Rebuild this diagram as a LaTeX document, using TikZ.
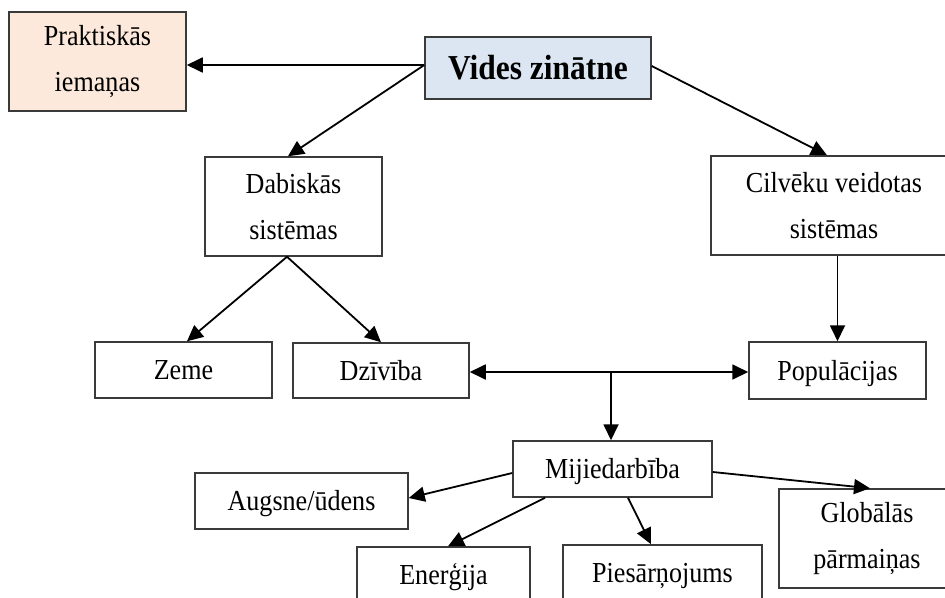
\documentclass[tikz,border=0pt]{standalone}
\usepackage{fontspec}
\setmainfont{Liberation Serif}[FakeStretch=0.9]
\usetikzlibrary{arrows.meta}
\definecolor{peach}{HTML}{FCE9DB}
\definecolor{paleblue}{HTML}{DCE6F2}
\definecolor{edge}{HTML}{3A3A3A}
\tikzset{
  box/.style={draw=edge, line width=1.5pt, inner sep=0pt, align=center,
    font=\fontsize{29}{46}\selectfont},
  one/.style={text height=26pt, text depth=7pt},
  arr/.style={line width=1.8pt, -{Triangle[length=16pt,width=15pt]}},
  arrb/.style={line width=1.8pt, {Triangle[length=16pt,width=15pt]}-{Triangle[length=16pt,width=15pt]}}
}
\begin{document}
\begin{tikzpicture}[x=1pt,y=-1pt]
\useasboundingbox (0,0) rectangle (945,597);
\clip (0,0) rectangle (945,597);
\node[box, fill=peach, minimum width=177pt, minimum height=99pt] (prak) at (97.5,61.5) {Praktiskās\\iemaņas};
\node[box, fill=paleblue, minimum width=226pt, minimum height=62pt, text height=31pt, text depth=8pt, font=\fontsize{35}{40}\selectfont\bfseries] (vides) at (538,68) {Vides zinātne};
\node[box, minimum width=177pt, minimum height=99pt] (dab) at (293.5,206.5) {Dabiskās\\sistēmas};
\node[box, minimum width=246pt, minimum height=99pt] (cil) at (834,205.5) {Cilvēku veidotas\\sistēmas};
\node[box, one, minimum width=177pt, minimum height=56pt] (zeme) at (183.5,370) {Zeme};
\node[box, one, minimum width=176pt, minimum height=55pt] (dzi) at (381,370.5) {Dzīvība};
\node[box, one, minimum width=177pt, minimum height=57pt] (pop) at (837.5,370.5) {Populācijas};
\node[box, one, minimum width=199pt, minimum height=56pt] (mij) at (612.5,469) {Mijiedarbība};
\node[box, one, minimum width=213pt, minimum height=56pt] (aug) at (301.5,501) {Augsne/ūdens};
\node[box, one, minimum width=173pt, minimum height=56pt] (ene) at (443.5,575) {Enerģija};
\node[box, one, minimum width=199pt, minimum height=56pt] (pie) at (662.5,573) {Piesārņojums};
\node[box, minimum width=176pt, minimum height=99pt] (glo) at (867,538.5) {Globālās\\pārmaiņas};

\coordinate (vw) at ([yshift=3pt]vides.west);
\draw[arr] (vw) -- (vw -| prak.east);
\draw[arr] (vw) -- ([xshift=-5.5pt]dab.north);
\draw[arr] ([yshift=2pt]vides.east) -- ([xshift=-7pt]cil.north);
\draw[arr] ([xshift=-6.5pt]dab.south) -- ([xshift=3.5pt]zeme.north);
\draw[arr] ([xshift=-6.5pt]dab.south) -- (dzi.north);
\draw[arr] (pop.north |- cil.south) -- (pop.north);
\coordinate (de) at ([yshift=-1.5pt]dzi.east);
\draw[arrb] (de) -- (de -| pop.west);
\coordinate (jn) at ([xshift=-1.5pt]de -| mij.north);
\draw[arr] (jn) -- (jn |- mij.north);
\draw[arr] ([yshift=-4pt]mij.west) -- ([yshift=3pt]aug.east);
\draw[arr] ([xshift=-67.5pt]mij.south) -- ([xshift=4.5pt]ene.north);
\draw[arr] ([xshift=15.5pt]mij.south) -- ([xshift=-11.5pt]pie.north);
\draw[arr] ([yshift=-3pt]mij.east) -- ([xshift=3pt]glo.north);
\end{tikzpicture}
\end{document}
